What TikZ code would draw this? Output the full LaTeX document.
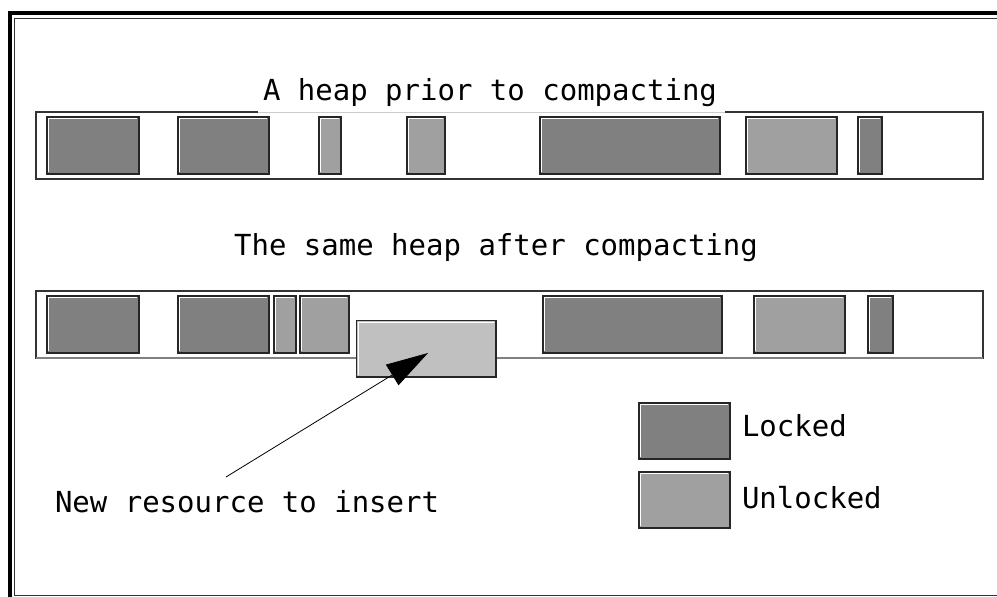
\documentclass[tikz,border=0pt]{standalone}
\usepackage{fontspec}
\newfontfamily\pixfont{DejaVu Sans Mono}
\usetikzlibrary{arrows.meta,calc}
\definecolor{lockedc}{HTML}{808080}
\definecolor{unlockedc}{HTML}{A0A0A0}
\definecolor{newc}{HTML}{C0C0C0}
\tikzset{
  blk/.style={draw=black!85, line width=1.2pt, inner sep=0pt, outer sep=0pt, anchor=north west,
    path picture={\draw[white,line width=1.2pt]
      ($(path picture bounding box.south west)+(1.7pt,1.7pt)$) |-
      ($(path picture bounding box.north east)+(-1.7pt,-1.7pt)$);}},
  lockedblk/.style={blk, fill=lockedc},
  unlockedblk/.style={blk, fill=unlockedc},
  newblk/.style={blk, fill=newc},
  heapbox/.style={draw=black!80, line width=1.3pt, inner sep=0pt, outer sep=0pt, anchor=north west},
  txt/.style={inner sep=0pt, outer sep=0pt, font=\pixfont\fontsize{29}{29}\selectfont, text=black},
}
\begin{document}
\begin{tikzpicture}[x=1pt,y=-1pt]
\useasboundingbox (0,0) rectangle (997,597);
\clip (0,0) rectangle (997,597);
% frame
\draw[line width=4pt] (8,13) -- (1002,13);
\draw[line width=4pt] (10,11) -- (10,600);
\draw[line width=1.2pt, black!80] (1002,18.5) -- (14.5,18.5) -- (14.5,595.5) -- (1002,595.5);
% top heap
\node[heapbox, minimum width=947pt, minimum height=67pt] (heapA) at (36,112) {};
\draw[white, line width=2pt] (258,112) -- (725,112);
\draw[black!20, line width=1pt] (258,112) -- (725,112);
\node[txt, anchor=base] (titleA) at (490,100) {A heap prior to compacting};
\node[lockedblk,   minimum width=92pt,  minimum height=57pt] (t1) at (47,117) {};
\node[lockedblk,   minimum width=91pt,  minimum height=57pt] (t2) at (178,117) {};
\node[unlockedblk, minimum width=22pt,  minimum height=57pt] (t3) at (319,117) {};
\node[unlockedblk, minimum width=38pt,  minimum height=57pt] (t4) at (407,117) {};
\node[lockedblk,   minimum width=180pt, minimum height=57pt] (t5) at (540,117) {};
\node[unlockedblk, minimum width=91pt,  minimum height=57pt] (t6) at (746,117) {};
\node[lockedblk,   minimum width=24pt,  minimum height=57pt] (t7) at (858,117) {};
% bottom heap
\node[txt, anchor=base] (titleB) at (496,255) {The same heap after compacting};
\node[heapbox, minimum width=947pt, minimum height=67pt] (heapB) at (36,291) {};
\draw[black!50, line width=1.5pt] (36,358) -- (983,358);
\node[lockedblk,   minimum width=92pt,  minimum height=57pt] (b1) at (47,296) {};
\node[lockedblk,   minimum width=91pt,  minimum height=57pt] (b2) at (178,296) {};
\node[unlockedblk, minimum width=22pt,  minimum height=57pt] (b3) at (274,296) {};
\node[unlockedblk, minimum width=49pt,  minimum height=57pt] (b4) at (300,296) {};
\node[lockedblk,   minimum width=179pt, minimum height=57pt] (b5) at (543,296) {};
\node[unlockedblk, minimum width=91pt,  minimum height=57pt] (b6) at (754,296) {};
\node[lockedblk,   minimum width=25pt,  minimum height=57pt] (b7) at (868,296) {};
\node[newblk,      minimum width=139.5pt, minimum height=56.5pt] (newres) at (356.5,320.5) {};
% label and arrow
\node[txt, anchor=base west] (lbl) at (55,512) {New resource to insert};
\coordinate (arrstart) at (226,477);
\coordinate (arrtip) at (428,353);
\draw[line width=0.8pt, -{Triangle[length=42pt,width=24pt]}] (arrstart) -- (arrtip);
% legend
\node[lockedblk,   minimum width=91pt, minimum height=56pt] (legL) at (639,403) {};
\node[unlockedblk, minimum width=91pt, minimum height=56pt] (legU) at (639,472) {};
\node[txt, anchor=base west] (legLt) at (742,436) {Locked};
\node[txt, anchor=base west] (legUt) at (742,508) {Unlocked};
\end{tikzpicture}
\end{document}
